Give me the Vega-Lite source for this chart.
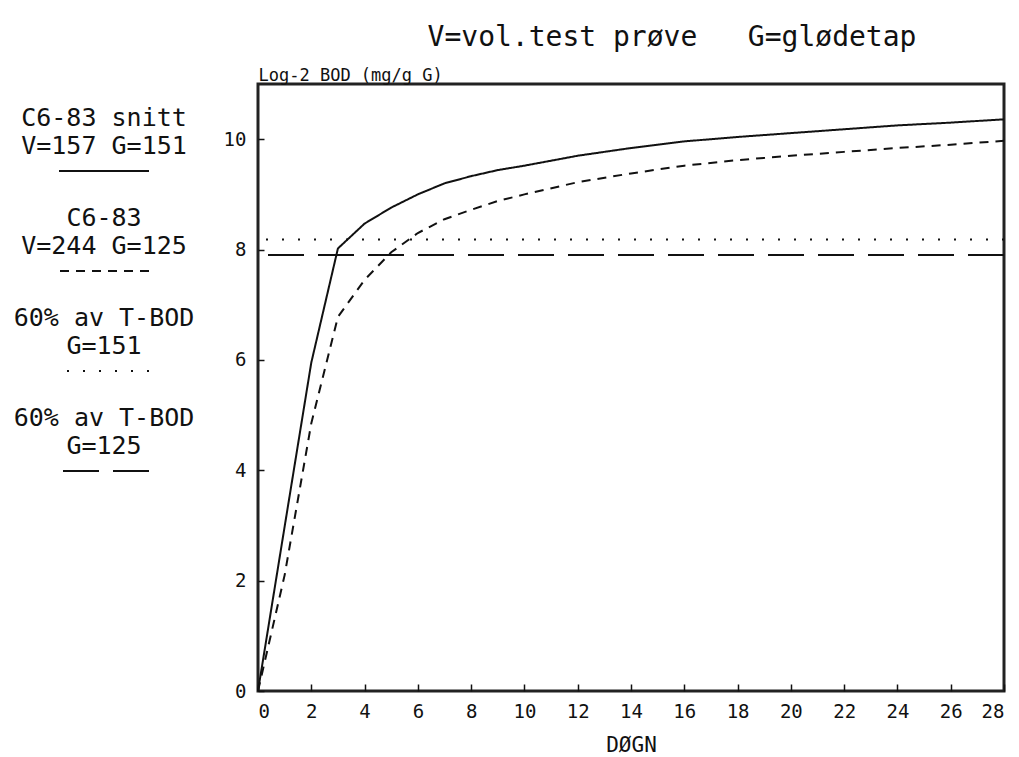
{
  "$schema": "https://vega.github.io/schema/vega-lite/v6.json",
  "background": "white",
  "padding": {"left": 13, "top": 22, "right": 5, "bottom": 5},
  "bounds": "flush",
  "spacing": 109,
  "config": {
    "font": "DejaVu Sans Mono",
    "view": {"stroke": null},
    "axis": {"grid": false, "labelFont": "DejaVu Sans Mono", "titleFont": "DejaVu Sans Mono", "labelColor": "#111", "titleColor": "#111", "tickColor": "#111", "titleFontWeight": "normal"}
  },
  "datasets": {
    "legend": [
      {"series": "A", "label": "C6-83 snitt\nV=157 G=151"},
      {"series": "B", "label": "C6-83\nV=244 G=125"},
      {"series": "C", "label": "60% av T-BOD\nG=151"},
      {"series": "D", "label": "60% av T-BOD\nG=125"}
    ],
    "curves": [
      {"series": "A", "day": 0, "bod": 0},
      {"series": "A", "day": 1, "bod": 2.98},
      {"series": "A", "day": 2, "bod": 5.95},
      {"series": "A", "day": 3, "bod": 8.02},
      {"series": "A", "day": 4, "bod": 8.47},
      {"series": "A", "day": 5, "bod": 8.76},
      {"series": "A", "day": 6, "bod": 9.0},
      {"series": "A", "day": 7, "bod": 9.2},
      {"series": "A", "day": 8, "bod": 9.33},
      {"series": "A", "day": 9, "bod": 9.44},
      {"series": "A", "day": 10, "bod": 9.52},
      {"series": "A", "day": 12, "bod": 9.7},
      {"series": "A", "day": 14, "bod": 9.84},
      {"series": "A", "day": 16, "bod": 9.96},
      {"series": "A", "day": 18, "bod": 10.04},
      {"series": "A", "day": 20, "bod": 10.11},
      {"series": "A", "day": 22, "bod": 10.18},
      {"series": "A", "day": 24, "bod": 10.25},
      {"series": "A", "day": 26, "bod": 10.3},
      {"series": "A", "day": 28, "bod": 10.36},
      {"series": "B", "day": 0, "bod": 0},
      {"series": "B", "day": 1, "bod": 2.1},
      {"series": "B", "day": 2, "bod": 4.85},
      {"series": "B", "day": 3, "bod": 6.78},
      {"series": "B", "day": 4, "bod": 7.45},
      {"series": "B", "day": 5, "bod": 7.95},
      {"series": "B", "day": 6, "bod": 8.3},
      {"series": "B", "day": 7, "bod": 8.55},
      {"series": "B", "day": 8, "bod": 8.72},
      {"series": "B", "day": 9, "bod": 8.88},
      {"series": "B", "day": 10, "bod": 9.0},
      {"series": "B", "day": 12, "bod": 9.22},
      {"series": "B", "day": 14, "bod": 9.38},
      {"series": "B", "day": 16, "bod": 9.52},
      {"series": "B", "day": 18, "bod": 9.62},
      {"series": "B", "day": 20, "bod": 9.7},
      {"series": "B", "day": 22, "bod": 9.77},
      {"series": "B", "day": 24, "bod": 9.84},
      {"series": "B", "day": 26, "bod": 9.9},
      {"series": "B", "day": 28, "bod": 9.97}
    ],
    "levels": [
      {"series": "C", "bod": 8.18},
      {"series": "D", "bod": 7.9}
    ]
  },
  "hconcat": [
    {
      "width": 90,
      "height": 400,
      "data": {"name": "legend"},
      "layer": [
        {
          "mark": {"type": "text", "lineBreak": "\n", "fontSize": 25, "lineHeight": 28, "font": "DejaVu Sans Mono", "baseline": "middle", "align": "center", "color": "#111"},
          "encoding": {
            "y": {"field": "series", "type": "nominal", "sort": null, "axis": null, "bandPosition": 0.34, "scale": {"type": "band", "paddingInner": 0, "paddingOuter": 0}},
            "text": {"field": "label"}
          }
        },
        {
          "mark": {"type": "rule", "strokeWidth": 2, "color": "#111"},
          "encoding": {
            "y": {"field": "series", "type": "nominal", "sort": null, "axis": null, "bandPosition": 0.87, "scale": {"type": "band", "paddingInner": 0, "paddingOuter": 0}},
            "strokeDash": {"field": "series", "type": "nominal", "legend": null, "scale": {"domain": ["A", "B", "C", "D"], "range": [[1, 0], [9, 7], [2, 14], [36, 14]]}}
          }
        }
      ]
    },
    {
      "width": 746,
      "height": 607,
      "view": {"stroke": "#222", "strokeWidth": 3},
      "title": {"text": "V=vol.test prøve\u00a0\u00a0\u00a0G=glødetap", "font": "DejaVu Sans Mono", "fontSize": 28, "fontWeight": "normal", "color": "#111", "anchor": "middle", "dx": 41, "offset": 14},
      "layer": [
        {
          "data": {"name": "curves"},
          "mark": {"type": "line", "strokeWidth": 2, "color": "#111"},
          "encoding": {
            "x": {"field": "day", "type": "quantitative", "scale": {"domain": [0, 28], "nice": false},
              "axis": {"title": "DØGN", "values": [0, 2, 4, 6, 8, 10, 12, 14, 16, 18, 20, 22, 24, 26, 28], "format": "d", "domain": false, "tickSize": -7, "tickWidth": 1.5, "labelPadding": 18, "labelFontSize": 19, "titleFontSize": 21, "titlePadding": 13}},
            "y": {"field": "bod", "type": "quantitative", "scale": {"domain": [0, 11], "nice": false},
              "axis": {"title": "Log-2 BOD (mg/g G)", "values": [0, 2, 4, 6, 8, 10], "format": "d", "domain": false, "tickSize": -6, "tickWidth": 1.5, "labelPadding": 18, "labelFontSize": 19, "titleFontSize": 17, "titleAngle": 0, "titleAlign": "left", "titleBaseline": "alphabetic", "titleX": 0, "titleY": -4}},
            "strokeDash": {"field": "series", "type": "nominal", "legend": null, "scale": {"domain": ["A", "B", "C", "D"], "range": [[1, 0], [9, 7], [2, 14], [36, 14]]}}
          }
        },
        {
          "data": {"name": "levels"},
          "mark": {"type": "rule", "strokeWidth": 2, "color": "#111"},
          "encoding": {
            "y": {"field": "bod", "type": "quantitative"},
            "strokeDash": {"field": "series", "type": "nominal", "legend": null}
          }
        }
      ]
    }
  ]
}
